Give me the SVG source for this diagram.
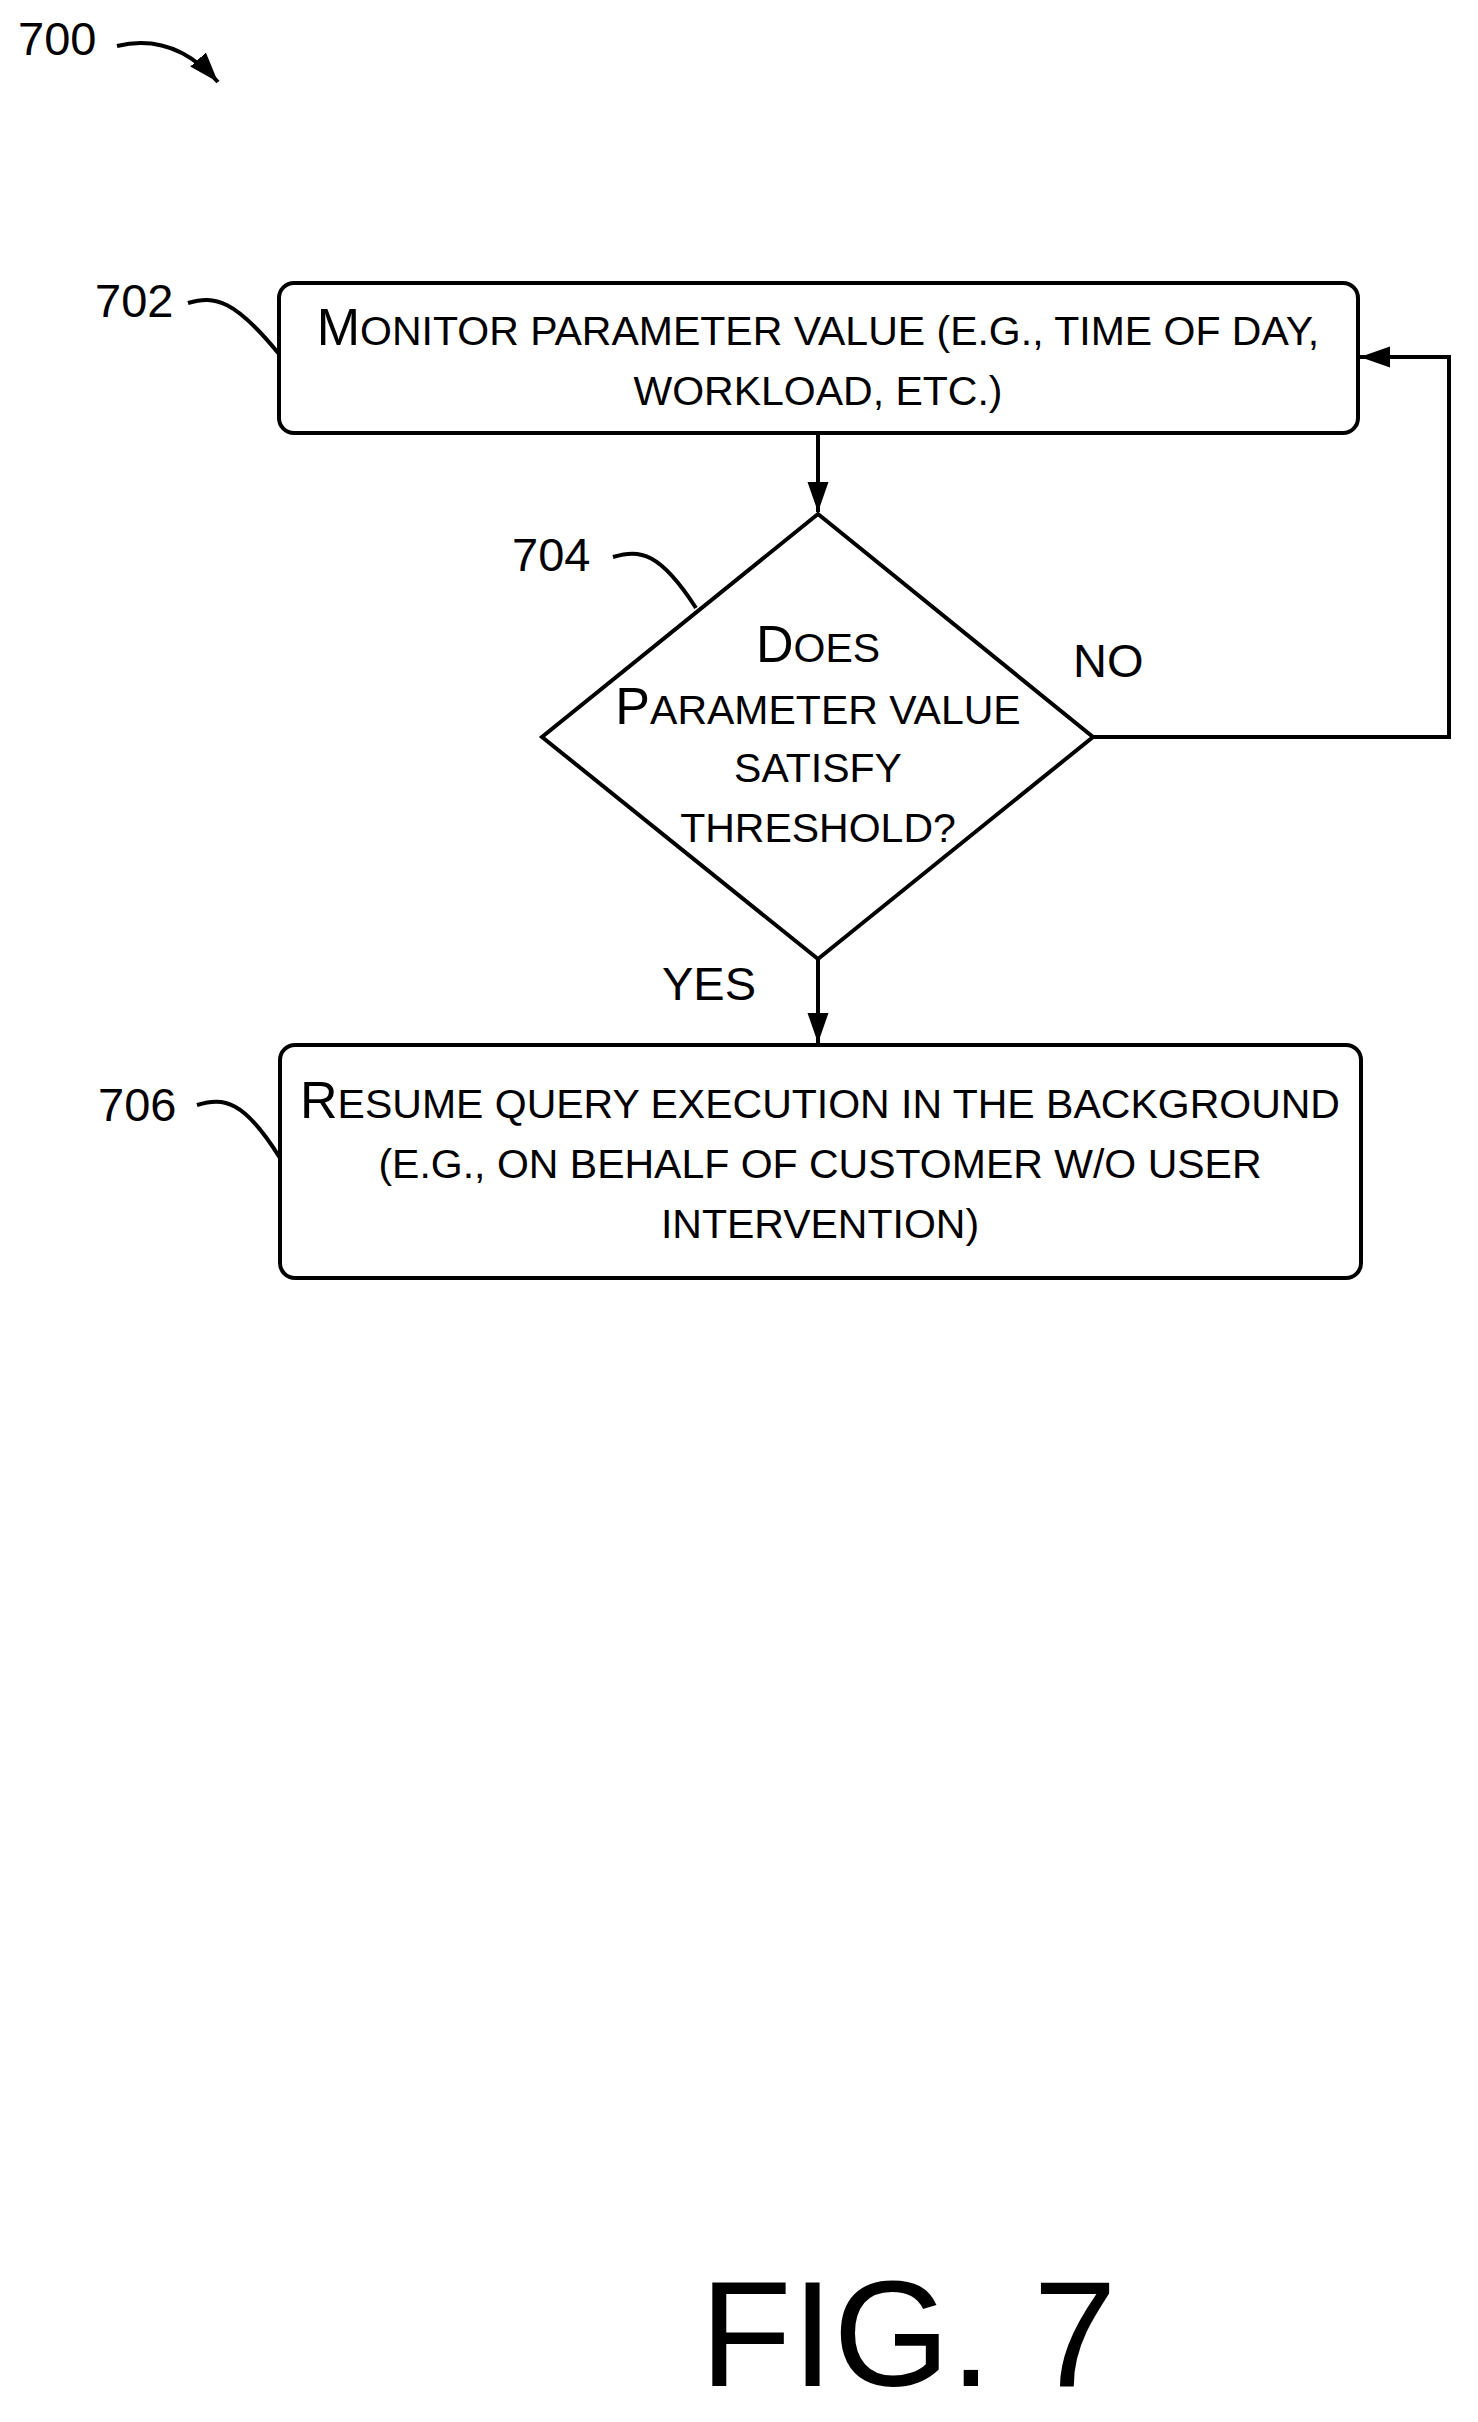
<svg xmlns="http://www.w3.org/2000/svg" width="1478" height="2422" viewBox="0 0 1478 2422">
<style>
.s{fill:none;stroke:#000;stroke-width:4}
text{font-family:"Liberation Sans",Arial,sans-serif;fill:#000}
.t{font-size:41px;text-anchor:middle}
.b{font-size:52px}
.n{font-size:47px}
</style>
<defs>
<marker id="h" viewBox="0 0 10 10" refX="10" refY="5" markerWidth="30" markerHeight="30" orient="auto" markerUnits="userSpaceOnUse"><path d="M0,1.5 L10,5 L0,8.5 z"/></marker>
</defs>
<rect width="1478" height="2422" fill="#fff"/>
<g id="label700">
<text class="n" x="18" y="55">700</text>
<path class="s" d="M117,46 C150,38 185,45 218,82" marker-end="url(#h)"/>
</g>
<g id="n702">
<rect class="s" x="279" y="283" width="1079" height="150" rx="15"/>
<text class="t" x="818" y="345"><tspan class="b">M</tspan>ONITOR PARAMETER VALUE (E.G., TIME OF DAY,</text>
<text class="t" x="818" y="405">WORKLOAD, ETC.)</text>
<text class="n" x="95" y="317">702</text>
<path class="s" d="M188,303 C215,295 235,300 279,354"/>
</g>
<g id="n704">
<polygon class="s" points="818,514 1093,737 818,959 542,737"/>
<text class="t" x="818" y="662"><tspan class="b">D</tspan>OES</text>
<text class="t" x="818" y="724"><tspan class="b">P</tspan>ARAMETER VALUE</text>
<text class="t" x="818" y="782">SATISFY</text>
<text class="t" x="818" y="842">THRESHOLD?</text>
<text class="n" x="512" y="571">704</text>
<path class="s" d="M613,557 C640,549 660,552 696,608"/>
</g>
<g id="n706">
<rect class="s" x="280" y="1045" width="1081" height="233" rx="15"/>
<text class="t" x="820" y="1118"><tspan class="b">R</tspan>ESUME QUERY EXECUTION IN THE BACKGROUND</text>
<text class="t" x="820" y="1178">(E.G., ON BEHALF OF CUSTOMER W/O USER</text>
<text class="t" x="820" y="1238">INTERVENTION)</text>
<text class="n" x="98" y="1121">706</text>
<path class="s" d="M197,1105 C224,1097 244,1100 280,1158"/>
</g>
<g id="connectors">
<path class="s" d="M818,433 V512" marker-end="url(#h)"/>
<path class="s" d="M818,959 V1043" marker-end="url(#h)"/>
<path class="s" d="M1093,737 H1449 V357 H1360" marker-end="url(#h)"/>
<text class="n" x="1073" y="677">NO</text>
<text class="n" x="662" y="1000">YES</text>
</g>
<text x="700" y="2386" style="font-size:150px">FIG. 7</text>
</svg>
